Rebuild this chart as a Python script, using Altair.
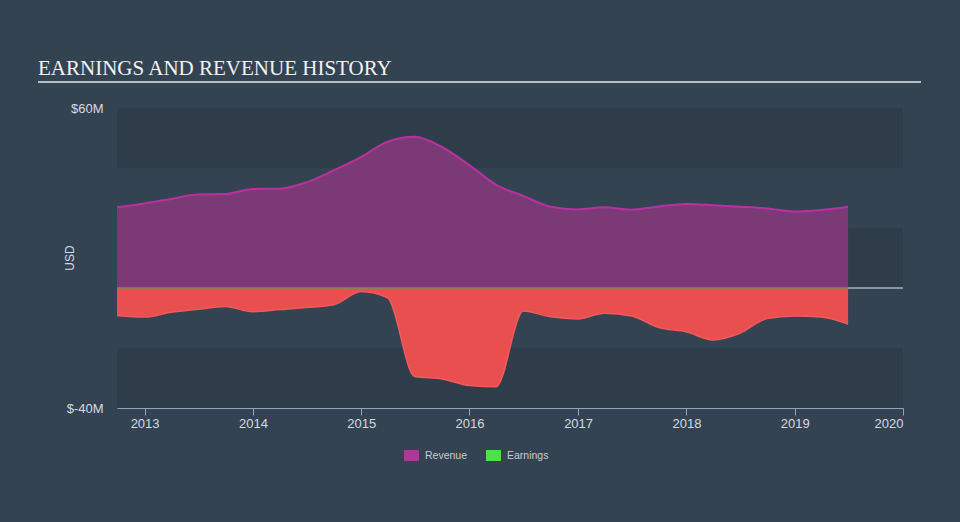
import altair as alt
import pandas as pd

dates = ["2012-09-30", "2012-12-31", "2013-03-31", "2013-06-30", "2013-09-30", "2013-12-31",
         "2014-03-31", "2014-06-30", "2014-09-30", "2014-12-31", "2015-03-31", "2015-06-30",
         "2015-09-30", "2015-12-31", "2016-03-31", "2016-06-30", "2016-09-30", "2016-12-31",
         "2017-03-31", "2017-06-30", "2017-09-30", "2017-12-31", "2018-03-31", "2018-06-30",
         "2018-09-30", "2018-12-31", "2019-03-31", "2019-06-30"]
revenue = [26.9, 28.2, 29.7, 31.2, 31.3, 33.0, 33.1, 35.2, 39.2, 43.6, 48.8, 50.4, 47.0, 41.0,
           34.4, 30.7, 27.1, 26.2, 26.9, 26.1, 27.2, 28.0, 27.6, 27.1, 26.5, 25.5, 26.0, 27.1]
earnings = [-9.2, -9.7, -8.1, -7.1, -6.2, -7.9, -7.2, -6.5, -5.6, -1.2, -3.3, -29.5, -30.3, -32.5,
            -32.9, -7.7, -9.6, -10.3, -8.4, -9.3, -13.2, -14.6, -17.3, -15.1, -10.2, -9.3, -9.7, -12.0]
legend_names = ["Revenue", "Earnings"]
legend_colors = ["#a93a9a", "#4fe04f"]
band_lo = [40, 0, -40]
band_hi = [60, 20, -20]
year_ticks = [2013, 2014, 2015, 2016, 2017, 2018, 2019, 2020]
title_text = "EARNINGS AND REVENUE HISTORY"

W, H = 786, 300
FONT = "Liberation Sans"

df = pd.DataFrame({"date": dates, "revenue": revenue, "earnings": earnings})

xscale = alt.Scale(type="utc", domain=[alt.DateTime(year=2012, month=9, date=30, utc=True),
                                       alt.DateTime(year=2020, month=1, date=1, utc=True)])
yscale = alt.Scale(domain=[-40, 60], nice=False, zero=False)

xaxis = alt.Axis(values=[alt.DateTime(year=y, month=1, date=1, utc=True) for y in year_ticks],
                 labelExpr="utcFormat(datum.value, '%Y')", title=None, grid=False,
                 domainColor="#93a3b3", tickColor="#93a3b3", tickSize=7, domainWidth=1,
                 labelFont=FONT, labelFontSize=13, labelColor="#d5dae0", labelPadding=2,
                 labelFlush=True)
yaxis = alt.Axis(values=[-40, 60], labelExpr="'$' + datum.value + 'M'", title=None,
                 domain=False, ticks=False, grid=False, labelFont=FONT, labelFontSize=13,
                 labelColor="#d5dae0", labelPadding=14)

bands = alt.Chart(pd.DataFrame({"lo": band_lo, "hi": band_hi})).mark_rect(color="#2f3c4a").encode(
    x=alt.value(0), x2=alt.value(W),
    y=alt.Y("hi:Q", scale=yscale, axis=yaxis), y2="lo:Q")

zero_white = alt.Chart(pd.DataFrame({"z": [0]})).mark_rule(color="#e6e9ec", strokeWidth=1.2).encode(
    x=alt.value(0), x2=alt.value(W), y=alt.Y("z:Q", scale=yscale, axis=yaxis))

rev_area = alt.Chart(df).mark_area(interpolate="monotone", color="#7b3a75").encode(
    x=alt.X("date:T", scale=xscale, axis=xaxis),
    y=alt.Y("revenue:Q", scale=yscale, axis=yaxis))
rev_line = alt.Chart(df).mark_line(interpolate="monotone", color="#b8329f", strokeWidth=2).encode(
    x=alt.X("date:T", scale=xscale, axis=xaxis),
    y=alt.Y("revenue:Q", scale=yscale, axis=yaxis))

earn_area = alt.Chart(df).mark_area(interpolate="monotone", color="#ea4f50").encode(
    x=alt.X("date:T", scale=xscale, axis=xaxis),
    y=alt.Y("earnings:Q", scale=yscale, axis=yaxis))
earn_line = alt.Chart(df).mark_line(interpolate="monotone", color="#f05a5a", strokeWidth=1.5).encode(
    x=alt.X("date:T", scale=xscale, axis=xaxis),
    y=alt.Y("earnings:Q", scale=yscale, axis=yaxis))

zero_green = alt.Chart(pd.DataFrame({"a": [dates[0]], "b": [dates[-1]], "z": [0]})).mark_rule(
    color="#6f8c5a", strokeWidth=1.5).encode(
    x=alt.X("a:T", scale=xscale, axis=xaxis), x2="b:T",
    y=alt.Y("z:Q", scale=yscale, axis=yaxis))

legend_layer = alt.Chart(pd.DataFrame({"series": legend_names})).mark_point(
    filled=True, opacity=0).encode(
    color=alt.Color("series:N", scale=alt.Scale(domain=legend_names, range=legend_colors),
                    legend=alt.Legend(orient="none", legendX=287, legendY=340,
                                      direction="horizontal", title=None,
                                      symbolType="M-1,-0.73H1V0.73H-1Z", symbolSize=225,
                                      symbolOpacity=1, symbolStrokeWidth=0,
                                      labelFont=FONT, labelFontSize=10.5, labelColor="#c8cdd3",
                                      labelOffset=6, columnPadding=18, padding=0)))

title_layer = alt.Chart(pd.DataFrame({"t": [title_text]})).mark_text(
    align="left", baseline="alphabetic", font="Liberation Serif", fontSize=21,
    color="#f2f2f2").encode(text="t:N", x=alt.value(-79), y=alt.value(-33.5))
underline = alt.Chart(pd.DataFrame({"z": [0]})).mark_rule(color="#b8bec4", strokeWidth=2).encode(
    x=alt.value(-79), x2=alt.value(804), y=alt.value(-26))
ytitle = alt.Chart(pd.DataFrame({"t": ["USD"]})).mark_text(
    angle=270, align="center", baseline="middle", font=FONT, fontSize=12,
    color="#d5dae0").encode(text="t:N", x=alt.value(-47), y=alt.value(150))

chart = alt.layer(bands, zero_white, rev_area, rev_line, earn_area, earn_line, zero_green,
                  legend_layer, title_layer, underline, ytitle).properties(
    width=W, height=H, background="#344352",
    autosize=alt.AutoSizeParams(type="none"),
    padding={"left": 117, "top": 108, "right": 57, "bottom": 114}
).configure_view(stroke=None)

chart.save("out.html", embed_options={"renderer": "svg", "actions": False})
